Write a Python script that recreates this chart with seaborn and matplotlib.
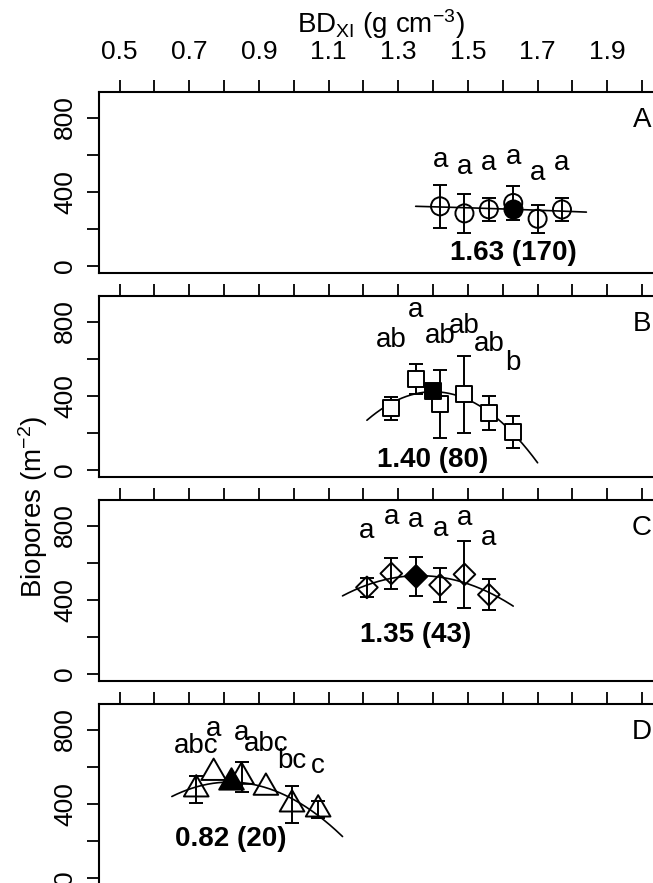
import numpy as np
import pandas as pd
import matplotlib
matplotlib.use("Agg")
import matplotlib.pyplot as plt
from matplotlib.path import Path
import seaborn as sns

# ---------------------------------------------------------------- data
# Bulk-density classes (g cm-3), mean biopore counts (m-2) and standard errors
bd_a = [1.42, 1.49, 1.56, 1.63, 1.70, 1.77]
pores_a = [322, 284, 306, 340, 255, 305]
se_a = [115, 105, 61, 90, 76, 61]
letters_a = ["a", "a", "a", "a", "a", "a"]

bd_b = [1.28, 1.35, 1.42, 1.49, 1.56, 1.63]
pores_b = [332, 492, 354, 408, 309, 205]
se_b = [63, 80, 183, 206, 92, 87]
letters_b = ["ab", "a", "ab", "ab", "ab", "b"]

bd_c = [1.21, 1.28, 1.35, 1.42, 1.49, 1.56]
pores_c = [467, 542, 527, 480, 537, 428]
se_c = [53, 85, 105, 90, 181, 82]
letters_c = ["a", "a", "a", "a", "a", "a"]

bd_d = [0.72, 0.77, 0.85, 0.92, 0.995, 1.07]
pores_d = [478, 567, 546, 487, 397, 370]
se_d = [72, 0, 80, 0, 100, 45]
letters_d = ["abc", "a", "a", "abc", "bc", "c"]

# Optimum bulk density, biopores at the optimum and number of observations
opt_bd = [1.63, 1.40, 1.35, 0.82]
opt_pores = [306, 428, 527, 520]
opt_n = [170, 80, 43, 20]

# Quadratic fits around the optimum: y = q2*(x-opt)^2 + q1*(x-opt) + q0
fit_a = [-30, -66, 306]
fit_b = [-4250, 0, 422]
fit_c = [-2250, 45, 530]
fit_d = [-2800, -20, 517]

panel_ids = ["A", "B", "C", "D"]

# ---------------------------------------------------------------- style
sns.set_theme(style="ticks")
plt.rcParams["font.family"] = ["Liberation Sans", "DejaVu Sans"]
plt.rcParams["mathtext.default"] = "regular"
for key in ["text.color", "axes.edgecolor", "axes.labelcolor",
            "xtick.color", "ytick.color"]:
    plt.rcParams[key] = "black"

FS_TICK = 19
FS = 20
LW = 1.4
tri = Path([(-1, -0.577), (1, -0.577), (0, 1.155), (-1, -0.577)],
           [Path.MOVETO, Path.LINETO, Path.LINETO, Path.CLOSEPOLY])

panels = [
    dict(bd=bd_a, y=pores_a, se=se_a, let=letters_a, fit=fit_a,
         marker="o", ms=13.0, fill="none", off=248, note_y=68),
    dict(bd=bd_b, y=pores_b, se=se_b, let=letters_b, fit=fit_b,
         marker="s", ms=12.0, fill="white", off=370, note_y=54),
    dict(bd=bd_c, y=pores_c, se=se_c, let=letters_c, fit=fit_c,
         marker="D", ms=11.0, fill="none", off=303, note_y=211),
    dict(bd=bd_d, y=pores_d, se=se_d, let=letters_d, fit=fit_d,
         marker=tri, ms=20.5, fill="none", off=236, note_y=209),
]

W, H = 653, 883
fig = plt.figure(figsize=(W / 100, H / 100), dpi=100)
left, right = 98.7, 663.0
top0, pitch, h = 92.3, 204.0, 180.5

xticks = np.round(np.arange(0.5, 2.001, 0.1), 1)

for i, p in enumerate(panels):
    top = top0 + i * pitch
    ax = fig.add_axes([left / W, 1 - (top + h) / H, (right - left) / W, h / H])
    ax.set_xlim(0.44, 2.06)
    ax.set_ylim(-36, 936)

    df = pd.DataFrame({"bd": p["bd"], "pores": p["y"], "se": p["se"],
                       "letter": p["let"]})

    # fitted curve, spanning one class width beyond the data
    x0 = df["bd"].min() - 0.07
    x1 = df["bd"].max() + 0.07
    xs = np.linspace(x0, x1, 200)
    q2, q1, q0 = p["fit"]
    dx = xs - opt_bd[i]
    ys = q2 * dx ** 2 + q1 * dx + q0
    sns.lineplot(x=xs, y=ys, color="black", linewidth=1.2, ax=ax,
                 sort=False, zorder=2)

    # standard errors
    bars = df[df["se"] > 0]
    ax.errorbar(bars["bd"], bars["pores"], yerr=bars["se"], fmt="none",
                ecolor="black", elinewidth=LW, capsize=5, capthick=LW,
                zorder=2)

    # class means
    sns.scatterplot(data=df, x="bd", y="pores", marker=p["marker"],
                    s=p["ms"] ** 2, facecolor=p["fill"], edgecolor="black",
                    linewidth=LW, ax=ax, zorder=3)

    # optimum
    sns.scatterplot(x=[opt_bd[i]], y=[opt_pores[i]], marker=p["marker"],
                    s=p["ms"] ** 2, color="black", edgecolor="black",
                    linewidth=LW, ax=ax, zorder=4)

    # letters of the multiple comparison
    for _, r in df.iterrows():
        ax.text(r["bd"], r["pores"] + p["off"], r["letter"], ha="center",
                va="center", fontsize=FS)

    ax.text(opt_bd[i], p["note_y"], f"{opt_bd[i]:.2f} ({opt_n[i]})",
            ha="center", va="center", fontsize=FS, fontweight="bold")
    ax.text(2.0, 785, panel_ids[i], ha="center", va="center", fontsize=FS)

    ax.xaxis.tick_top()
    ax.set_xticks(xticks)
    if i == 0:
        ax.set_xticklabels([f"{v:.1f}" if k % 2 == 0 else ""
                            for k, v in enumerate(xticks)])
    else:
        ax.set_xticklabels([])
    ax.set_yticks([0, 200, 400, 600, 800])
    ax.set_yticklabels(["0", "", "400", "", "800"], rotation=90, va="center")
    ax.tick_params(axis="both", length=8.6, width=1.3, labelsize=FS_TICK,
                   direction="out")
    ax.tick_params(axis="x", pad=12)
    ax.tick_params(axis="y", pad=7)
    for s in ax.spines.values():
        s.set_visible(True)
        s.set_linewidth(1.5)
        s.set_color("black")
    ax.set_xlabel("")
    ax.set_ylabel("")

fig.text((left + right) / 2 / W, 1 - 33 / H,
         r"BD$_{XI}$ (g cm$^{-3}$)", ha="center", va="baseline", fontsize=FS)
fig.text(33 / W, 1 - 507 / H, r"Biopores (m$^{-2}$)", rotation=90,
         ha="center", va="center", fontsize=FS)

fig.savefig("out.png", dpi=100)
